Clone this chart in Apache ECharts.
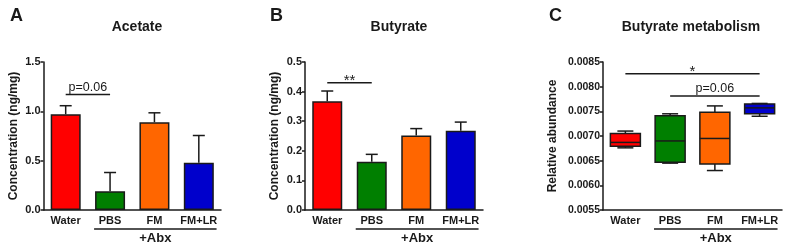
<!DOCTYPE html>
<html>
<head>
<meta charset="utf-8">
<script src="https://cdn.jsdelivr.net/npm/echarts@6/dist/echarts.min.js"></script>
<style>
  html, body { margin: 0; padding: 0; background: #fff; }
  #main { width: 787px; height: 250px; }
</style>
</head>
<body>
<div id="main"></div>
<script>
// groups (x axis)
const groups = ['Water', 'PBS', 'FM', 'FM+LR'];
const groupColors = ['#FF0000', '#007F00', '#FF6600', '#0000CC'];

// A - acetate, mean and SEM
const acetateMean = [0.97, 0.19, 0.89, 0.48];
const acetateSem = [0.087, 0.19, 0.095, 0.275];

// B - butyrate, mean and SEM
const butyrateMean = [0.367, 0.163, 0.252, 0.268];
const butyrateSem = [0.035, 0.025, 0.023, 0.029];

// C - butyrate metabolism, [min, q1, median, q3, max]
const metabWater = [0.00676, 0.00679, 0.00687, 0.00705, 0.0071];
const metabPBS = [0.00645, 0.00647, 0.0069, 0.00741, 0.00745];
const metabFM = [0.0063, 0.00643, 0.00695, 0.00748, 0.00761];
const metabFMLR = [0.0074, 0.00745, 0.00757, 0.00765, 0.00766];

// significance marks: [from group, to group, y, text]
const sigA = [[0, 1, 1.17, 'p=0.06']];
const sigB = [[0, 1, 0.43, '**']];
const sigC = [[0, 3, 0.00826, '*'], [1, 3, 0.00781, 'p=0.06']];

// bracket under the axis: [from group, to group, text]
const abxBracket = [[1, 3, '+Abx']];

const font = '"Liberation Sans", Arial, sans-serif';
const ink = '#1a1a1a';

const chartDom = document.getElementById('main');
const myChart = echarts.init(chartDom, null, { renderer: 'canvas' });

// error bar: line from mean up to mean+sem, with a cap
const errorRender = (params, api) => {
    const x = api.value(0);
    const m = api.value(1);
    const e = api.value(2);
    const p0 = api.coord([x, m]);
    const p1 = api.coord([x, m + e]);
    const st = { stroke: ink, lineWidth: 1.5 };
    return {
        type: 'group',
        children: [
            { type: 'line', shape: { x1: p0[0], y1: p0[1], x2: p1[0], y2: p1[1] }, style: st },
            { type: 'line', shape: { x1: p1[0] - 6, y1: p1[1], x2: p1[0] + 6, y2: p1[1] }, style: st }
        ]
    };
};

// box and whiskers
const boxRender = (params, api) => {
    const x = api.value(0);
    const v = [1, 2, 3, 4, 5].map(i => api.value(i));
    const pt = v.map(val => api.coord([x, val]));
    const cx = pt[0][0];
    const hw = 15, cw = 8;
    const st = { stroke: ink, lineWidth: 1.5 };
    return {
        type: 'group',
        children: [
            { type: 'line', shape: { x1: cx, y1: pt[0][1], x2: cx, y2: pt[1][1] }, style: st },
            { type: 'line', shape: { x1: cx, y1: pt[3][1], x2: cx, y2: pt[4][1] }, style: st },
            { type: 'line', shape: { x1: cx - cw, y1: pt[0][1], x2: cx + cw, y2: pt[0][1] }, style: st },
            { type: 'line', shape: { x1: cx - cw, y1: pt[4][1], x2: cx + cw, y2: pt[4][1] }, style: st },
            {
                type: 'rect',
                shape: { x: cx - hw, y: pt[3][1], width: hw * 2, height: pt[1][1] - pt[3][1] },
                style: { fill: groupColors[x], stroke: ink, lineWidth: 1.5 }
            },
            { type: 'line', shape: { x1: cx - hw, y1: pt[2][1], x2: cx + hw, y2: pt[2][1] }, style: st }
        ]
    };
};

// significance line with text above
const sigRender = (marks) => (params, api) => {
    const a = api.coord([api.value(0), api.value(2)]);
    const b = api.coord([api.value(1), api.value(2)]);
    const txt = marks[params.dataIndex][3];
    const star = txt.indexOf('*') >= 0;
    return {
        type: 'group',
        children: [
            { type: 'line', shape: { x1: a[0], y1: a[1], x2: b[0], y2: b[1] }, style: { stroke: ink, lineWidth: 1.5 } },
            {
                type: 'text', x: (a[0] + b[0]) / 2, y: a[1] - (star ? 2 : 7),
                style: {
                    text: txt, fill: ink, align: 'center', verticalAlign: 'middle',
                    font: (star ? '15px ' : '12.5px ') + font
                }
            }
        ]
    };
};

// "+Abx" bracket below the category labels
const bracketRender = (params, api) => {
    const cs = params.coordSys;
    const base = cs.y + cs.height;
    const band = api.size([1, 0])[0];
    const a = api.coord([api.value(0), 0])[0] - band * 0.36;
    const b = api.coord([api.value(1), 0])[0] + band * 0.4;
    return {
        type: 'group',
        children: [
            { type: 'line', shape: { x1: a, y1: base + 19, x2: b, y2: base + 19 }, style: { stroke: ink, lineWidth: 1.5 } },
            {
                type: 'text', x: (a + b) / 2, y: base + 28,
                style: { text: abxBracket[params.dataIndex][2], fill: ink, align: 'center', verticalAlign: 'middle', font: 'bold 13px ' + font }
            }
        ]
    };
};

const grids = [
    { left: 43.5, top: 62, width: 177.5, height: 148 },
    { left: 305, top: 62, width: 178, height: 148 },
    { left: 603, top: 62, width: 179, height: 148 }
];

const xAxisBase = (i) => ({
    type: 'category',
    gridIndex: i,
    data: groups,
    axisLine: { lineStyle: { color: ink, width: 1.5 } },
    axisTick: { alignWithLabel: true, length: 4, lineStyle: { color: ink, width: 1.5 } },
    axisLabel: { color: ink, fontFamily: font, fontWeight: 'bold', fontSize: 11, margin: 5, interval: 0 },
    splitLine: { show: false }
});

const yAxisBase = (i, min, max, interval, digits, name, gap, size) => ({
    type: 'value',
    gridIndex: i,
    min: min,
    max: max,
    interval: interval,
    name: name,
    nameLocation: 'middle',
    nameGap: gap,
    nameTextStyle: { color: ink, fontFamily: font, fontWeight: 'bold', fontSize: 12 },
    axisLine: { show: true, lineStyle: { color: ink, width: 1.5 } },
    axisTick: { show: true, length: 3, lineStyle: { color: ink, width: 1.5 } },
    axisLabel: {
        color: ink, fontFamily: font, fontWeight: 'bold', fontSize: size, margin: 3,
        formatter: (v) => v.toFixed(digits)
    },
    splitLine: { show: false }
});

const barSeries = (i, values) => ({
    type: 'bar',
    xAxisIndex: i,
    yAxisIndex: i,
    barWidth: 30,
    data: values.map((v, k) => ({
        value: v,
        itemStyle: { color: groupColors[k], borderColor: ink, borderWidth: 1.5 }
    })),
    silent: true
});

const errSeries = (i, means, sems) => ({
    type: 'custom',
    xAxisIndex: i,
    yAxisIndex: i,
    renderItem: errorRender,
    encode: { x: 0, y: [1, 2] },
    data: means.map((m, k) => [k, m, sems[k]]),
    z: 3,
    silent: true
});

const sigSeries = (i, marks) => ({
    type: 'custom',
    xAxisIndex: i,
    yAxisIndex: i,
    renderItem: sigRender(marks),
    encode: { x: [0, 1], y: 2 },
    data: marks.map(m => [m[0], m[1], m[2]]),
    clip: false,
    z: 4,
    silent: true
});

const bracketSeries = (i) => ({
    type: 'custom',
    xAxisIndex: i,
    yAxisIndex: i,
    renderItem: bracketRender,
    encode: { x: [0, 1] },
    data: abxBracket.map(b => [b[0], b[1]]),
    clip: false,
    silent: true
});

const metab = [metabWater, metabPBS, metabFM, metabFMLR];

const titleStyle = { color: ink, fontFamily: font, fontWeight: 'bold', fontSize: 14 };
const letterStyle = { color: ink, fontFamily: font, fontWeight: 'bold', fontSize: 18 };

const option = {
    animation: false,
    backgroundColor: '#fff',
    title: [
        { text: 'A', left: 5, top: 2, textStyle: letterStyle },
        { text: 'B', left: 265, top: 2, textStyle: letterStyle },
        { text: 'C', left: 544, top: 2, textStyle: letterStyle },
        { text: 'Acetate', left: 132, top: 15, textAlign: 'center', textStyle: titleStyle },
        { text: 'Butyrate', left: 394, top: 15, textAlign: 'center', textStyle: titleStyle },
        { text: 'Butyrate metabolism', left: 686, top: 15, textAlign: 'center', textStyle: titleStyle }
    ],
    grid: grids,
    xAxis: [xAxisBase(0), xAxisBase(1), xAxisBase(2)],
    yAxis: [
        yAxisBase(0, 0, 1.5, 0.5, 1, 'Concentration (ng/mg)', 24, 11),
        yAxisBase(1, 0, 0.5, 0.1, 1, 'Concentration (ng/mg)', 24, 11),
        yAxisBase(2, 0.0055, 0.0085, 0.0005, 4, 'Relative abundance', 44, 10.5)
    ],
    series: [
        barSeries(0, acetateMean),
        errSeries(0, acetateMean, acetateSem),
        sigSeries(0, sigA),
        bracketSeries(0),
        barSeries(1, butyrateMean),
        errSeries(1, butyrateMean, butyrateSem),
        sigSeries(1, sigB),
        bracketSeries(1),
        {
            type: 'custom',
            xAxisIndex: 2,
            yAxisIndex: 2,
            renderItem: boxRender,
            encode: { x: 0, y: [1, 2, 3, 4, 5] },
            data: metab.map((b, k) => [k].concat(b)),
            silent: true
        },
        sigSeries(2, sigC),
        bracketSeries(2)
    ]
};

option && myChart.setOption(option);
</script>
</body>
</html>
